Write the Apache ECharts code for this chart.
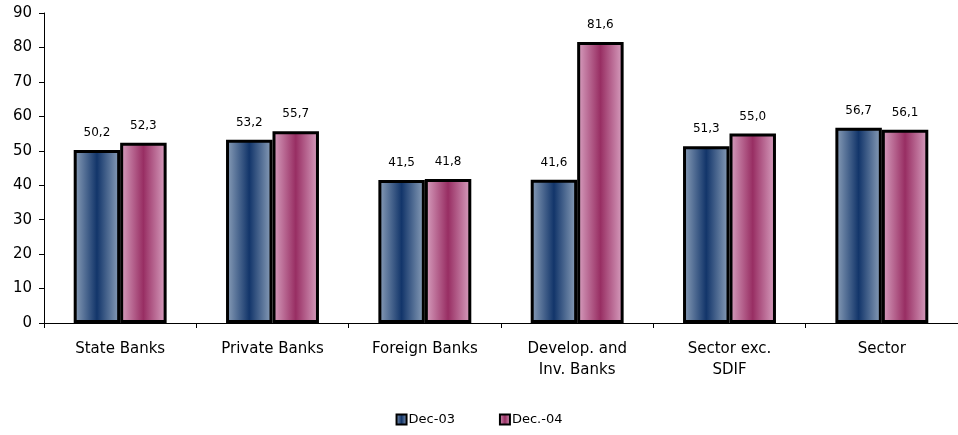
<!DOCTYPE html>
<html><head><meta charset="utf-8">
<script src="https://cdn.jsdelivr.net/npm/echarts@6/dist/echarts.min.js"></script>
<style>html,body{margin:0;padding:0;background:#fff}#c{width:958px;height:435px}</style>
</head><body><div id="c"></div>
<script>
const categories = ['State Banks', 'Private Banks', 'Foreign Banks', 'Develop. and\nInv. Banks', 'Sector exc.\nSDIF', 'Sector'];
const seriesNames = ['Dec-03', 'Dec.-04'];
const dec03 = [50.2, 53.2, 41.5, 41.6, 51.3, 56.7];
const dec04 = [52.3, 55.7, 41.8, 81.6, 55.0, 56.1];
const yTicks = [0, 10, 20, 30, 40, 50, 60, 70, 80, 90];

const FONT = 'DejaVu Sans';
function grad(edge, mid) {
  return new echarts.graphic.LinearGradient(0, 0, 1, 0, [
    {offset: 0, color: edge}, {offset: 0.5, color: mid}, {offset: 1, color: edge}
  ]);
}
const chart = echarts.init(document.getElementById('c'));
const lbl = {show: true, position: 'top', distance: 11, fontFamily: FONT, fontSize: 12, color: '#000',
  formatter: p => p.value.toFixed(1).replace('.', ',')};
chart.setOption({
  animation: false,
  grid: {left: 44, right: 0, top: 13, bottom: 112, containLabel: false},
  legend: {
    bottom: 4, left: 'center', itemGap: 44, itemWidth: 10, itemHeight: 10,
    textStyle: {fontFamily: FONT, fontSize: 13, color: '#000', padding: [0,0,0,-3]},
    data: [{name: seriesNames[0], icon: 'rect'}, {name: seriesNames[1], icon: 'rect'}]
  },
  xAxis: {
    type: 'category', data: categories,
    axisLine: {lineStyle: {color: '#000', width: 1}},
    axisTick: {show: true, length: 5, lineStyle: {color: '#000'}},
    axisLabel: {fontFamily: FONT, fontSize: 15, color: '#000', margin: 16, lineHeight: 21, interval: 0}
  },
  yAxis: {
    type: 'value', min: yTicks[0], max: yTicks[yTicks.length - 1], interval: 10,
    splitLine: {show: false},
    axisLine: {show: true, lineStyle: {color: '#000'}},
    axisTick: {show: true, length: 5, lineStyle: {color: '#000'}},
    axisLabel: {fontFamily: FONT, fontSize: 15, color: '#000', margin: 12}
  },
  series: [
    {name: seriesNames[0], type: 'bar', data: dec03, barGap: '0%', barCategoryGap: '39%',
     itemStyle: {color: grad('#8ea2bb', '#12356a'), borderColor: '#000', borderWidth: 3},
     label: lbl},
    {name: seriesNames[1], type: 'bar', data: dec04,
     itemStyle: {color: grad('#d9a3c2', '#982e63'), borderColor: '#000', borderWidth: 3},
     label: lbl}
  ]
});
</script></body></html>
